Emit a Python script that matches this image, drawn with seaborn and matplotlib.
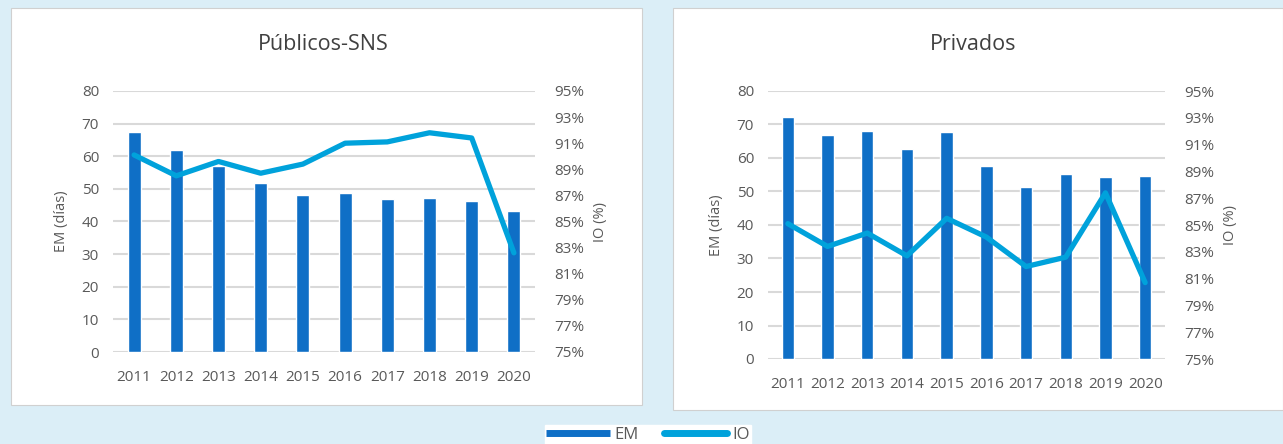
import numpy as np
import pandas as pd
import matplotlib
matplotlib.use("Agg")
import matplotlib.pyplot as plt
from matplotlib.patches import Rectangle
from matplotlib.lines import Line2D
from matplotlib.ticker import FuncFormatter
import seaborn as sns

# Data
years = ["2011", "2012", "2013", "2014", "2015", "2016", "2017", "2018", "2019", "2020"]
em_publicos = [67.5, 61.8, 56.9, 51.9, 48.0, 48.7, 47.0, 47.1, 46.4, 43.1]
io_publicos = [90.1, 88.5, 89.6, 88.7, 89.4, 91.0, 91.1, 91.8, 91.4, 82.6]
em_privados = [72.1, 67.0, 68.0, 62.8, 67.8, 57.6, 51.3, 55.1, 54.2, 54.7]
io_privados = [85.1, 83.4, 84.4, 82.7, 85.5, 84.1, 81.9, 82.6, 87.4, 80.7]
titles = ["Públicos-SNS", "Privados"]

BAR = "#0F6FC6"
LINE = "#00A2DB"
BG = "#DBEEF7"
TXT = "#595959"
GRID = "#D9D9D9"

sns.set_style("white")
plt.rcParams["font.family"] = ["Open Sans", "DejaVu Sans"]

W, H = 1283, 444
fig = plt.figure(figsize=(W / 100, H / 100), dpi=100)
fig.patch.set_facecolor(BG)

# white panels (pixel boxes: x0, y0, x1, y1)
panels = [(11, 8, 642, 405), (673, 8, 1283, 410)]
for x0, y0, x1, y1 in panels:
    fig.patches.append(Rectangle((x0 / W, 1 - y1 / H), (x1 - x0) / W, (y1 - y0) / H,
                                 transform=fig.transFigure, facecolor="white",
                                 edgecolor="#D0D0D0", lw=0.8, zorder=-5))

# plot areas in pixels: left, top, right, bottom
areas = [(113, 91, 535, 352), (768, 91, 1165, 359)]
datasets = [(em_publicos, io_publicos), (em_privados, io_privados)]
title_x = [323, 973]

for (l, t, r, b), (em, io), title, tx in zip(areas, datasets, titles, title_x):
    ax = fig.add_axes([l / W, 1 - b / H, (r - l) / W, (b - t) / H], zorder=2)
    ax.set_facecolor("none")
    df = pd.DataFrame({"year": years, "EM": em, "IO": io, "pos": np.arange(len(years))})

    sns.barplot(data=df, x="year", y="EM", ax=ax, color=BAR, saturation=1, width=0.31, zorder=2)
    ax.set_ylim(0, 80)
    ax.set_yticks(np.arange(0, 81, 10))
    ax.yaxis.grid(True, color=GRID, lw=1.5, zorder=0)
    ax.set_axisbelow(True)
    ax.set_xlim(-0.5, len(years) - 0.5)
    ax.set_xlabel("")
    ax.set_ylabel("EM (días)", color=TXT, fontsize=10.5, labelpad=9)
    ax.tick_params(axis="both", length=0, labelsize=11, labelcolor=TXT, pad=10)
    ax.tick_params(axis="x", pad=13)
    sns.despine(ax=ax, left=True, bottom=True)

    ax2 = ax.twinx()
    sns.lineplot(data=df, x="pos", y="IO", ax=ax2, color=LINE, lw=3.8, zorder=3)
    ax2.set_ylim(75, 95)
    ax2.set_yticks(np.arange(75, 96, 2))
    ax2.yaxis.set_major_formatter(FuncFormatter(lambda v, p: f"{v:.0f}%"))
    ax2.set_xlim(-0.5, len(years) - 0.5)
    ax2.set_ylabel("IO (%)", color=TXT, fontsize=10.5, labelpad=6)
    ax2.tick_params(axis="y", length=0, labelsize=11, labelcolor=TXT, pad=14)
    ax2.grid(False)
    sns.despine(ax=ax2, left=True, bottom=True, right=True)

    fig.text(tx / W, 1 - 45 / H, title, ha="center", va="center", fontsize=15.5, color="#404040")

handles = [Line2D([], [], color=BAR, lw=5, solid_capstyle="butt"),
           Line2D([], [], color=LINE, lw=5, solid_capstyle="round")]
leg = fig.legend(handles, ["EM", "IO"], loc="upper center", bbox_to_anchor=(648 / W, 1 - 425 / H),
                 ncol=2, frameon=True, fancybox=False, edgecolor="white", facecolor="white",
                 fontsize=12, handlelength=3.8, columnspacing=1.5, borderpad=0.1, handletextpad=0.3,
                 borderaxespad=0)
leg.get_frame().set_alpha(1)
for txt in leg.get_texts():
    txt.set_color(TXT)

fig.savefig("out.png", dpi=100, facecolor=BG)
